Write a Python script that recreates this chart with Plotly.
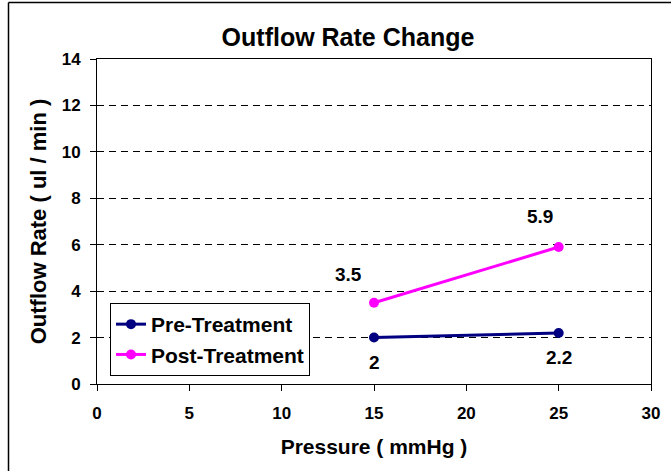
import plotly.graph_objects as go

pressure = [15, 25]
pre_treatment = [2.0, 2.2]
post_treatment = [3.5, 5.9]
pre_labels = ["2", "2.2"]
post_labels = ["3.5", "5.9"]
x_ticks = [0, 5, 10, 15, 20, 25, 30]
y_ticks = [0, 2, 4, 6, 8, 10, 12, 14]

FONT = "Liberation Sans, Arial, sans-serif"

fig = go.Figure()
fig.add_trace(go.Scatter(
    x=pressure, y=pre_treatment, name="<b>Pre-Treatment</b>", mode="lines+markers",
    line=dict(color="#000080", width=3), marker=dict(color="#000080", size=10),
))
fig.add_trace(go.Scatter(
    x=pressure, y=post_treatment, name="<b>Post-Treatment</b>", mode="lines+markers",
    line=dict(color="#FF00FF", width=3), marker=dict(color="#FF00FF", size=10),
))

annotations = []
for xv, yv, t in zip(pressure, pre_treatment, pre_labels):
    annotations.append(dict(x=xv, y=yv, text=f"<b>{t}</b>", showarrow=False,
                            xref="x", yref="y", yshift=-25,
                            font=dict(family=FONT, size=19, color="black")))
post_shifts = [(-26, 28), (-19, 31)]
for (xv, yv, t), (dx, dy) in zip(zip(pressure, post_treatment, post_labels), post_shifts):
    annotations.append(dict(x=xv, y=yv, text=f"<b>{t}</b>", showarrow=False,
                            xref="x", yref="y", xshift=dx, yshift=dy,
                            font=dict(family=FONT, size=19, color="black")))

frame_x = -88.5 / 554
frame_y = (384 - 2.5) / 325

fig.update_layout(
    width=671, height=471,
    margin=dict(l=97, r=20, t=59, b=87),
    paper_bgcolor="white", plot_bgcolor="white",
    font=dict(family=FONT, color="black"),
    title=dict(text="<b>Outflow Rate Change</b>", x=348 / 671,
               xanchor="center", xref="container",
               y=1 - 37 / 471, yanchor="middle", yref="container",
               font=dict(family=FONT, size=25, color="black")),
    showlegend=True,
    legend=dict(x=(110 - 97) / 554, y=(384 - 303) / 325, xanchor="left", yanchor="top",
                bgcolor="white", bordercolor="black", borderwidth=1,
                font=dict(family=FONT, size=21, color="black"),
                tracegroupgap=2),
    annotations=annotations,
    shapes=[
        dict(type="line", xref="paper", yref="paper",
             x0=frame_x, y0=-1.0, x1=frame_x, y1=frame_y,
             line=dict(color="black", width=1.5), layer="below"),
        dict(type="line", xref="paper", yref="paper",
             x0=frame_x, y0=frame_y, x1=2.0, y1=frame_y,
             line=dict(color="black", width=1.5), layer="below"),
    ],
)

fig.update_xaxes(
    range=[0, 30], tickvals=x_ticks, ticktext=[f"<b>{v}</b>" for v in x_ticks],
    showgrid=False, zeroline=False, showline=True, linecolor="black", linewidth=1,
    mirror=True, ticks="outside", ticklen=6, tickcolor="black",
    ticklabelstandoff=8,
    tickfont=dict(family=FONT, size=17, color="black"),
    title=dict(text="<b>Pressure ( mmHg )</b>", standoff=16,
               font=dict(family=FONT, size=21, color="black")),
)
fig.update_yaxes(
    range=[0, 14], tickvals=y_ticks, ticktext=[f"<b>{v}</b>" for v in y_ticks],
    showgrid=True, gridcolor="black", gridwidth=1, griddash="7px,5px",
    zeroline=False, showline=True, linecolor="black", linewidth=1,
    mirror=True, ticks="outside", ticklen=6, tickcolor="black",
    ticklabelstandoff=6,
    tickfont=dict(family=FONT, size=17, color="black"),
    title=dict(text="<b>Outflow Rate ( ul / min )</b>", standoff=8,
               font=dict(family=FONT, size=22, color="black")),
)

fig.write_html("out.html")
